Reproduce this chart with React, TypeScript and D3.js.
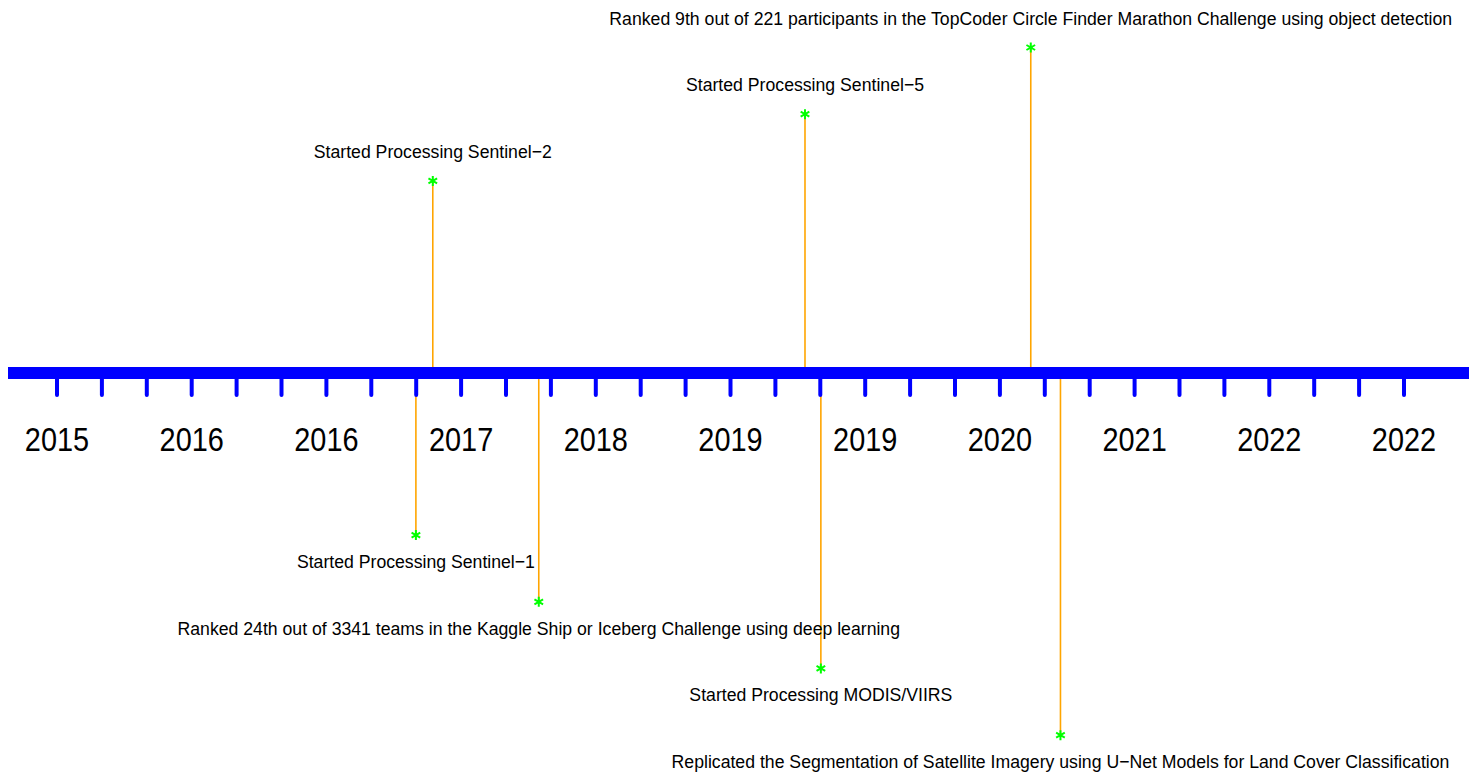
import React, { useEffect, useRef } from "react";
import * as d3 from "d3";

// event dates, heights (above + / below -) and labels
const eventDates = [
  "2017-06-15", "2017-07-18", "2018-02-10", "2019-07-15",
  "2019-08-15", "2020-09-28", "2020-11-25",
];
const eventHeights = [-2.43, 2.88, -3.43, 3.88, -4.43, 4.88, -5.43];
const eventLabels = [
  "Started Processing Sentinel\u22121",
  "Started Processing Sentinel\u22122",
  "Ranked 24th out of 3341 teams in the Kaggle Ship or Iceberg Challenge using deep learning",
  "Started Processing Sentinel\u22125",
  "Started Processing MODIS/VIIRS",
  "Ranked 9th out of 221 participants in the TopCoder Circle Finder Marathon Challenge using object detection",
  "Replicated the Segmentation of Satellite Imagery using U\u2212Net Models for Land Cover Classification",
];

// axis: first/last tick and the labels printed every third tick
const tickStart = "2015-07-15";
const tickEnd = "2022-09-27";
const tickCount = 31;
const tickLabels = [
  "2015", "2016", "2016", "2017", "2018", "2019",
  "2019", "2020", "2021", "2022", "2022",
];

const W = 1469;
const H = 773;

const App: React.FC = () => {
  const svgRef = useRef<SVGSVGElement | null>(null);

  useEffect(() => {
    if (!svgRef.current) return;
    const svg = d3.select(svgRef.current);
    svg.selectAll("*").remove();

    const parse = d3.timeParse("%Y-%m-%d");
    const t0 = parse(tickStart)!;
    const t1 = parse(tickEnd)!;
    const x = d3.scaleTime().domain([t0, t1]).range([57, 1404]);
    const y = d3.scaleLinear().domain([0, 1]).range([373, 306.3]);

    const ticks = d3.range(tickCount).map(
      (i) => new Date(+t0 + ((+t1 - +t0) * i) / (tickCount - 1))
    );

    const font = "'Liberation Sans', Arial, sans-serif";

    // stems
    svg.selectAll(".stem")
      .data(eventDates)
      .enter()
      .append("line")
      .attr("x1", (d) => x(parse(d)!))
      .attr("x2", (d) => x(parse(d)!))
      .attr("y1", y(0))
      .attr("y2", (_, i) => y(eventHeights[i]))
      .style("stroke", "#FFA500")
      .style("stroke-width", 1.6);

    // main line
    svg.append("line")
      .attr("x1", 8)
      .attr("x2", W)
      .attr("y1", y(0))
      .attr("y2", y(0))
      .style("stroke", "#0000FF")
      .style("stroke-width", 12);

    // ticks
    svg.selectAll(".tick")
      .data(ticks)
      .enter()
      .append("line")
      .attr("x1", (d) => x(d))
      .attr("x2", (d) => x(d))
      .attr("y1", y(0) + 5)
      .attr("y2", y(0) + 22)
      .style("stroke", "#0000FF")
      .style("stroke-width", 4)
      .style("stroke-linecap", "round");

    // narrow-looking labels: squeeze horizontally
    svg.selectAll(".tick-label")
      .data(tickLabels)
      .enter()
      .append("text")
      .attr("transform", (_, i) => `translate(${x(ticks[i * 3])},451) scale(0.85,1)`)
      .attr("text-anchor", "middle")
      .style("font-family", font)
      .style("font-size", "34px")
      .style("fill", "#000")
      .text((d) => d);

    // asterisks
    const star = d3.symbol().type(d3.symbolAsterisk).size(70);
    svg.selectAll(".star")
      .data(eventDates)
      .enter()
      .append("path")
      .attr("d", star()!)
      .attr("transform", (d, i) => `translate(${x(parse(d)!)},${y(eventHeights[i])})`)
      .style("fill", "none")
      .style("stroke", "#00FF00")
      .style("stroke-width", 2);

    // event labels
    svg.selectAll(".event-label")
      .data(eventLabels)
      .enter()
      .append("text")
      .attr("transform", (_, i) => {
        const px = x(parse(eventDates[i])!);
        const py = y(eventHeights[i]) + (eventHeights[i] > 0 ? -23 : 33);
        return `translate(${px},${py}) scale(0.955,1)`;
      })
      .attr("text-anchor", "middle")
      .style("font-family", font)
      .style("font-size", "18.5px")
      .style("fill", "#000")
      .text((d) => d);
  }, []);

  return (
    <svg
      ref={svgRef}
      width={W}
      height={H}
      style={{ position: "absolute", left: 0, top: 0, background: "#fff" }}
    />
  );
};

export default App;
